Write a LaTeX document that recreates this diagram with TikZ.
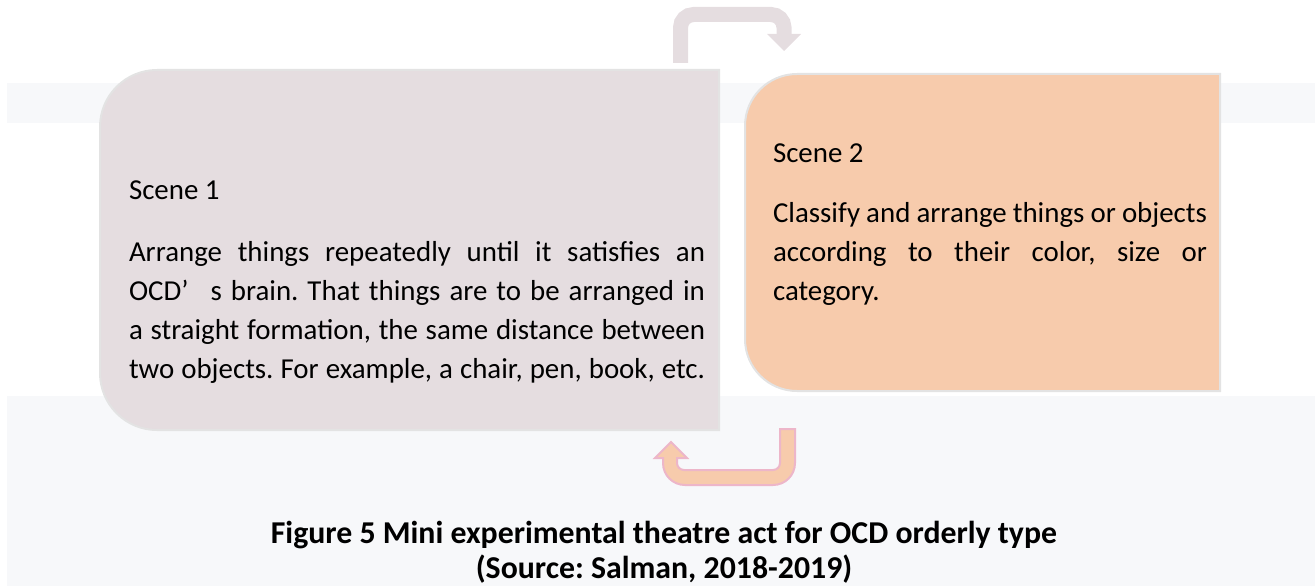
\documentclass[tikz,border=0pt]{standalone}
\usepackage{fontspec}
\setmainfont{Carlito}
\frenchspacing
\definecolor{bandc}{HTML}{F7F8FA}
\definecolor{mauve}{HTML}{E5DDE0}
\definecolor{peach}{HTML}{F7CBAC}
\definecolor{edgegray}{HTML}{E3E3E3}
\definecolor{pinkline}{HTML}{EDB6C9}
\newcommand{\bodyfont}{\fontsize{28.9}{39}\selectfont}
\newcommand{\jline}[2]{\makebox[#1][s]{#2}}
\begin{document}
\begin{tikzpicture}[x=1pt,y=-1pt,
  band/.style={fill=bandc,draw=none},
  scenebox/.style={line width=2pt},
  txt/.style={inner sep=0pt,outer sep=0pt,anchor=base west,text=black}]
\useasboundingbox (0,0) rectangle (1315,586);
% background bands
\fill[band] (7,83) rectangle (1315,123);
\fill[band] (7,396) rectangle (1315,586);
% Scene 1 box
\draw[scenebox,fill=mauve,draw=edgegray] (719,70) -- (157,70)
  .. controls (125.5,70) and (100,95.5) .. (100,127) -- (100,373)
  .. controls (100,404.5) and (125.5,430) .. (157,430) -- (719,430) -- cycle;
% Scene 2 box
\draw[scenebox,fill=peach,draw=edgegray] (1220,74) -- (797,74)
  .. controls (768.3,74) and (745,97.3) .. (745,126) -- (745,339)
  .. controls (745,367.7) and (768.3,391) .. (797,391) -- (1220,391) -- cycle;
% top arrow
\draw[mauve,line width=15pt,rounded corners=13pt] (680.5,63) -- (680.5,14.5) -- (784,14.5) -- (784,35);
\fill[mauve] (767,34) -- (801,34) -- (784,51) -- cycle;
% bottom arrow
\draw[fill=peach,draw=pinkline,line width=2pt,line join=miter]
  (780,429) -- (795,429) -- (795,463)
  .. controls (795,475.2) and (785.2,485) .. (773,485) -- (685,485)
  .. controls (672.8,485) and (663,475.2) .. (663,463) -- (663,458)
  -- (655,458) -- (671,442) -- (687,458) -- (677,458) -- (677,463)
  .. controls (677,466.9) and (680.1,470) .. (684,470) -- (773,470)
  .. controls (776.9,470) and (780,466.9) .. (780,463) -- cycle;
% texts
\node[txt] (t1) at (129,199) {\parbox[t]{576pt}{\bodyfont Scene 1\par\vspace{23pt}
  \noindent\jline{576pt}{Arrange things repeatedly until it satisfies an}\par
  \noindent\jline{576pt}{OCD’\hspace{22pt}s brain. That things are to be arranged in}\par
  \noindent\jline{576pt}{a straight formation, the same distance between}\par
  \noindent\jline{576pt}{two objects. For example, a chair, pen, book, etc.}}};
\node[txt] (t2) at (773,162) {\parbox[t]{434pt}{\bodyfont Scene 2\par\vspace{21pt}
  \noindent\jline{434pt}{Classify and arrange things or objects}\par
  \noindent\jline{434pt}{according to their color, size or}\par
  \noindent category.}};
\node[inner sep=0pt,anchor=base] (cap) at (664,543) {\parbox[t]{1000pt}{\centering\bfseries\fontsize{31.8}{35}\selectfont
  Figure 5 Mini experimental theatre act for OCD orderly type\\(Source: Salman, 2018-2019)}};
\end{tikzpicture}
\end{document}
